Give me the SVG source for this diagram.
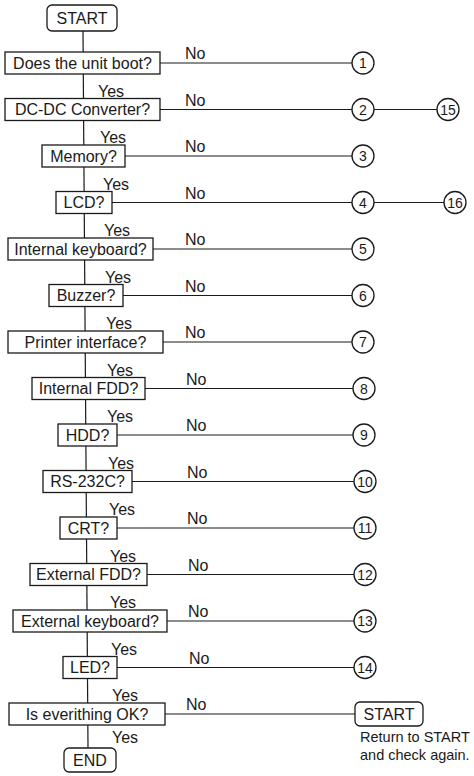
<svg xmlns="http://www.w3.org/2000/svg" width="474" height="776" viewBox="0 0 474 776">
<style>
.bg{fill:#ffffff}
.box{fill:#ffffff;stroke:#1a1a1a;stroke-width:1.3}
.ln{stroke:#1a1a1a;stroke-width:1.2;fill:none}
.t{font-family:"Liberation Sans",Arial,sans-serif;font-size:16px;fill:#1a1a1a}
.c{text-anchor:middle}
.n{font-family:"Liberation Sans",Arial,sans-serif;font-size:14px;fill:#1a1a1a;text-anchor:middle}
.s{font-size:14.5px}
.cir{fill:#ffffff;stroke:#1a1a1a;stroke-width:1.3}
</style>
<rect class="bg" x="0" y="0" width="474" height="776"/>
<g id="connectors">
<line class="ln" x1="83" y1="31" x2="88" y2="748"/>
<line class="ln" x1="160" y1="63" x2="352" y2="63"/>
<line class="ln" x1="160" y1="109.5" x2="352" y2="109.5"/>
<line class="ln" x1="374" y1="109.5" x2="437" y2="109.5"/>
<line class="ln" x1="125" y1="156" x2="352" y2="156"/>
<line class="ln" x1="112" y1="202.5" x2="352" y2="202.5"/>
<line class="ln" x1="374" y1="202.5" x2="444" y2="202.5"/>
<line class="ln" x1="153" y1="249" x2="352" y2="249"/>
<line class="ln" x1="123" y1="295.5" x2="352" y2="295.5"/>
<line class="ln" x1="163" y1="342" x2="352" y2="342"/>
<line class="ln" x1="145" y1="388.5" x2="353" y2="388.5"/>
<line class="ln" x1="117" y1="435" x2="353" y2="435"/>
<line class="ln" x1="132" y1="481.5" x2="354" y2="481.5"/>
<line class="ln" x1="117" y1="528" x2="354" y2="528"/>
<line class="ln" x1="147" y1="574.5" x2="354" y2="574.5"/>
<line class="ln" x1="167" y1="621" x2="354" y2="621"/>
<line class="ln" x1="117" y1="667.5" x2="354" y2="667.5"/>
<line class="ln" x1="165" y1="714" x2="355" y2="714"/>
<g class="t">
<text x="185" y="59">No</text><text x="185" y="105.5">No</text><text x="185" y="152">No</text><text x="185" y="198.5">No</text><text x="185" y="245">No</text><text x="185" y="291.5">No</text><text x="185" y="338">No</text><text x="186" y="384.5">No</text><text x="186" y="431">No</text><text x="187" y="477.5">No</text><text x="187" y="524">No</text><text x="188" y="570.5">No</text><text x="188" y="617">No</text><text x="189" y="663.5">No</text><text x="186" y="710">No</text>
<text x="98" y="96.5">Yes</text><text x="100" y="143">Yes</text><text x="103" y="189.5">Yes</text><text x="104" y="236">Yes</text><text x="105" y="282.5">Yes</text><text x="106" y="329">Yes</text><text x="107" y="375.5">Yes</text><text x="107" y="422">Yes</text><text x="108" y="468.5">Yes</text><text x="109" y="515">Yes</text><text x="110" y="561.5">Yes</text><text x="110" y="608">Yes</text><text x="111" y="654.5">Yes</text><text x="112" y="701">Yes</text><text x="112" y="743">Yes</text>
</g>
</g>
<g id="start"><rect class="box" x="47" y="5" width="70" height="26" rx="5"/><text class="t c" x="82" y="24">START</text></g>
<g id="q1"><rect class="box" x="5" y="52" width="155" height="22"/><text class="t c" x="82.5" y="68.5">Does the unit boot?</text></g>
<g id="q2"><rect class="box" x="5" y="98.5" width="155" height="22"/><text class="t c" x="82.5" y="115">DC-DC Converter?</text></g>
<g id="q3"><rect class="box" x="42" y="145" width="83" height="22"/><text class="t c" x="83.5" y="161.5">Memory?</text></g>
<g id="q4"><rect class="box" x="56" y="191.5" width="56" height="22"/><text class="t c" x="84" y="208">LCD?</text></g>
<g id="q5"><rect class="box" x="8" y="238" width="145" height="22"/><text class="t c" x="80.5" y="254.5">Internal keyboard?</text></g>
<g id="q6"><rect class="box" x="49" y="284.5" width="74" height="22"/><text class="t c" x="86" y="301">Buzzer?</text></g>
<g id="q7"><rect class="box" x="8" y="331" width="155" height="22"/><text class="t c" x="85.5" y="347.5">Printer interface?</text></g>
<g id="q8"><rect class="box" x="32" y="377.5" width="113" height="22"/><text class="t c" x="88.5" y="394">Internal FDD?</text></g>
<g id="q9"><rect class="box" x="58" y="424" width="59" height="22"/><text class="t c" x="87.5" y="440.5">HDD?</text></g>
<g id="q10"><rect class="box" x="43" y="470.5" width="89" height="22"/><text class="t c" x="87.5" y="487">RS-232C?</text></g>
<g id="q11"><rect class="box" x="60" y="517" width="57" height="22"/><text class="t c" x="88.5" y="533.5">CRT?</text></g>
<g id="q12"><rect class="box" x="30" y="563.5" width="117" height="22"/><text class="t c" x="88.5" y="580">External FDD?</text></g>
<g id="q13"><rect class="box" x="13" y="610" width="154" height="22"/><text class="t c" x="90" y="626.5">External keyboard?</text></g>
<g id="q14"><rect class="box" x="63" y="656.5" width="54" height="22"/><text class="t c" x="90" y="673">LED?</text></g>
<g id="q15"><rect class="box" x="9" y="703" width="156" height="22"/><text class="t c" x="87" y="719.5">Is everithing OK?</text></g>
<g id="end"><rect class="box" x="64" y="748" width="52" height="24" rx="5"/><text class="t c" x="90" y="766">END</text></g>
<g id="c1"><circle class="cir" cx="363" cy="63" r="11"/><text class="n" x="363" y="68">1</text></g>
<g id="c2"><circle class="cir" cx="363" cy="109.5" r="11"/><text class="n" x="363" y="114.5">2</text></g>
<g id="c15"><circle class="cir" cx="448" cy="109.5" r="11"/><text class="n" x="448" y="114.5">15</text></g>
<g id="c3"><circle class="cir" cx="363" cy="156" r="11"/><text class="n" x="363" y="161">3</text></g>
<g id="c4"><circle class="cir" cx="363" cy="202.5" r="11"/><text class="n" x="363" y="207.5">4</text></g>
<g id="c16"><circle class="cir" cx="455" cy="202.5" r="11"/><text class="n" x="455" y="207.5">16</text></g>
<g id="c5"><circle class="cir" cx="363" cy="249" r="11"/><text class="n" x="363" y="254">5</text></g>
<g id="c6"><circle class="cir" cx="363" cy="295.5" r="11"/><text class="n" x="363" y="300.5">6</text></g>
<g id="c7"><circle class="cir" cx="363" cy="342" r="11"/><text class="n" x="363" y="347">7</text></g>
<g id="c8"><circle class="cir" cx="364" cy="388.5" r="11"/><text class="n" x="364" y="393.5">8</text></g>
<g id="c9"><circle class="cir" cx="364" cy="435" r="11"/><text class="n" x="364" y="440">9</text></g>
<g id="c10"><circle class="cir" cx="365" cy="481.5" r="11"/><text class="n" x="365" y="486.5">10</text></g>
<g id="c11"><circle class="cir" cx="365" cy="528" r="11"/><text class="n" x="365" y="533">11</text></g>
<g id="c12"><circle class="cir" cx="365" cy="574.5" r="11"/><text class="n" x="365" y="579.5">12</text></g>
<g id="c13"><circle class="cir" cx="365" cy="621" r="11"/><text class="n" x="365" y="626">13</text></g>
<g id="c14"><circle class="cir" cx="365" cy="667.5" r="11"/><text class="n" x="365" y="672.5">14</text></g>
<g id="restart"><rect class="box" x="355" y="702" width="68" height="24" rx="5"/><text class="t c" x="389" y="720">START</text></g>
<g id="note"><text class="t s" x="360" y="742">Return to START</text><text class="t s" x="360" y="760">and check again.</text></g>
</svg>
